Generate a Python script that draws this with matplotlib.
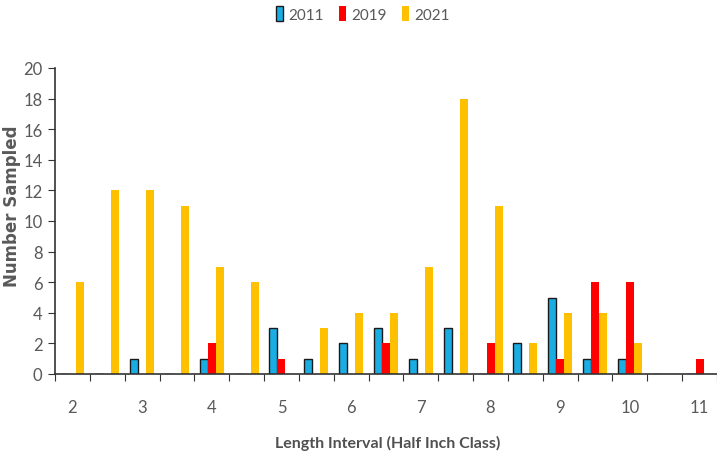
import numpy as np
import matplotlib.pyplot as plt
from matplotlib.patches import Patch

# half inch length classes 2 .. 11
classes = ['2', '2.5', '3', '3.5', '4', '4.5', '5', '5.5', '6', '6.5',
           '7', '7.5', '8', '8.5', '9', '9.5', '10', '10.5', '11']
n2011 = [0, 0, 1, 0, 1, 0, 3, 1, 2, 3, 1, 3, 0, 2, 5, 1, 1, 0, 0]
n2019 = [0, 0, 0, 0, 2, 0, 1, 0, 0, 2, 0, 0, 2, 0, 1, 6, 6, 0, 1]
n2021 = [6, 12, 12, 11, 7, 6, 0, 3, 4, 4, 7, 18, 11, 2, 4, 4, 2, 0, 0]
years = ['2011', '2019', '2021']

plt.rcParams['font.family'] = ['Lato', 'DejaVu Sans']
grey = '#595959'

fig = plt.figure(figsize=(7.17, 4.60), dpi=100)
ax = fig.add_axes([55 / 717, 85 / 460, 662 / 717, 306 / 460])

x = np.arange(len(classes))
w = 0.23
ax.bar(x - w, n2011, w, color='#1AADE4', edgecolor='#1a1a1a', linewidth=1.0)
ax.bar(x, n2019, w, color='#FF0000')
ax.bar(x + w, n2021, w, color='#FFC000')

ax.set_xlim(-0.5, len(classes) - 0.59)
ax.set_ylim(0, 20)
ax.set_yticks(range(0, 21, 2))

# tick marks at class boundaries, labels on whole inches
ax.set_xticks(np.arange(-0.5, len(classes), 1.0))
ax.set_xticklabels([])
whole = [i for i, c in enumerate(classes) if '.' not in c]
ax.set_xticks(whole, minor=True)
ax.set_xticklabels([classes[i] for i in whole], minor=True)
ax.tick_params(axis='x', which='major', length=5, direction='out', color='#333333')
ax.tick_params(axis='x', which='minor', length=0, pad=18, labelsize=12, labelcolor=grey)
ax.tick_params(axis='y', length=5, direction='out', color='#333333', labelsize=12,
               labelcolor=grey, pad=4)

for s in ('top', 'right'):
    ax.spines[s].set_visible(False)
for s in ('left', 'bottom'):
    ax.spines[s].set_color('#333333')
    ax.spines[s].set_linewidth(1.2)

ax.set_ylabel('Number Sampled', family='DejaVu Sans', fontweight='bold',
              fontsize=12, color=grey)
ax.yaxis.set_label_coords(-0.051, 0.55)
ax.set_xlabel('Length Interval (Half Inch Class)', fontsize=11.5, color='#505050',
              fontweight='bold')
ax.xaxis.set_label_coords(0.503, -0.2)

handles = [Patch(facecolor='#1AADE4', edgecolor='#1a1a1a', linewidth=1.0),
           Patch(facecolor='#FF0000'), Patch(facecolor='#FFC000')]
fig.legend(handles, years, loc='center', bbox_to_anchor=(363 / 717, 1 - 15 / 460),
           ncol=3, frameon=False, fontsize=11, labelcolor=grey,
           handlelength=0.45, handleheight=1.1, handletextpad=0.4, columnspacing=0.95)

fig.savefig('out.png', dpi=100)
